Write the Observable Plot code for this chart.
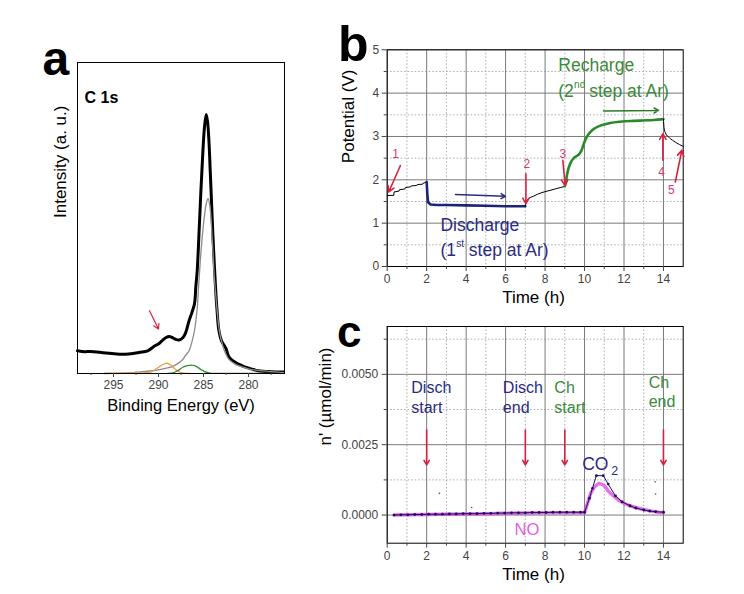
<!DOCTYPE html>
<html><head><meta charset="utf-8">
<script src="https://cdn.jsdelivr.net/npm/d3@7"></script>
<script src="https://cdn.jsdelivr.net/npm/@observablehq/plot@0.6"></script>
<style>
body{margin:0;background:#fff;}
#fig{position:relative;width:744px;height:594px;overflow:hidden;background:#fff;}
#fig > div{position:absolute;}
#fig svg{overflow:visible;max-width:none;}
</style></head><body>
<div id="fig"><div id="pa" style="left:0;top:0"></div><div id="pb" style="left:310px;top:20px"></div><div id="pc" style="left:310px;top:310px"></div></div>
<script>
// ---------- Panel a : C 1s XPS ----------
const aEnergy = [299,298.2,297.5,296.5,295.5,294.3,293.3,292.1,291.2,290.4,290.0,289.5,289.2,288.8,288.5,288.1,287.7,287.3,287.0,286.6,286.3,286.0,285.85,285.7,285.5,285.3,285.1,284.9,284.7,284.55,284.4,284.25,284.1,283.95,283.8,283.65,283.5,283.3,283.0,282.5,282.2,281.8,281.1,280.5,279.6,278.9,277.5,276.1];
const aSignal = [7.3,7.0,7.1,6.8,6.5,6.2,6.3,6.8,7.3,8.9,9.5,10.8,11.5,11.9,11.6,11.0,10.8,11.5,13.0,17,19.5,22.4,28,33,45,58,69.6,79,83.3,81,75,65,54.6,44,35.2,27,20.5,14,10.5,8,5.5,4.2,3.0,2.2,1.4,0.9,0.6,0.5];
const aFitEnergy = [296,293,291,290,289,288.4,287.7,287.3,287.0,286.6,286.3,286.0,285.7,285.5,285.2,284.9,284.7,284.5,284.3,284.0,283.8,283.6,283.3,283.1,282.7,282.2,281.5,281.1,280,279,277,276.1];
const aFitMain = [0,0.3,0.8,1.2,1.8,2.3,3.5,4.5,5.8,7.3,10,13.8,21,30,42,50.5,54.5,56.2,54,41.7,31,24,15,11.6,7.5,4.6,3.0,2.5,1.5,1.0,0.5,0.3];
const aOrangeE = [296,292,291,290.5,290.0,289.5,289.1,288.7,288.3,287.9,287.5,287.0,286.5];
const aOrangeI = [0.1,0.2,0.4,1.0,2.0,2.9,3.3,2.9,1.8,0.8,0.3,0.1,0];
const aGreenE = [289,288.3,287.8,287.3,286.8,286.3,285.8,285.3,284.8,284.3,283.5,277];
const aGreenI = [0.05,0.3,1.0,2.0,2.5,2.7,2.3,1.3,0.5,0.15,0.05,0.05];
const aTicks = [295,290,285,280];
const aMinor = [297.5,292.5,287.5,282.5,277.5];

// ---------- Panel b : potential vs time ----------
const bRestT = [0,0.33,0.35,0.6,0.62,0.9,0.92,1.2,1.22,1.5,1.52,1.8,1.82,2.0];
const bRestV = [1.64,1.64,1.72,1.74,1.77,1.79,1.82,1.84,1.86,1.87,1.89,1.9,1.92,1.95];
const bDischT = [2.0,2.03,2.07,2.2,2.5,3,4,5,6,7.0];
const bDischV = [1.95,1.7,1.48,1.43,1.42,1.42,1.41,1.40,1.39,1.39];
const bRest2T = [7.0,7.02,7.15,7.4,7.8,8.2,8.6,9.0];
const bRest2V = [1.39,1.48,1.56,1.62,1.70,1.75,1.80,1.85];
const bChargeT = [9.0,9.05,9.15,9.3,9.5,9.7,9.85,10.0,10.15,10.4,10.8,11.3,11.8,12.5,13.0,13.5,14.0];
const bChargeV = [1.85,1.95,2.2,2.4,2.52,2.58,2.68,2.88,3.02,3.15,3.25,3.31,3.34,3.36,3.37,3.38,3.40];
const bRest3T = [14.0,14.03,14.1,14.3,14.6,15.0];
const bRest3V = [3.40,3.2,3.08,2.97,2.87,2.77];
const bStepLabels = ["1","2","3","4","5"];
const bStepT = [0.42,7.08,8.9,13.9,14.4];
const bStepV = [2.59,2.37,2.59,2.18,1.77];
const bArrowFrom = [[0.67,2.33],[7.03,2.14],[8.9,2.45],[13.97,2.45],[14.6,1.95]];
const bArrowTo = [[0.08,1.72],[7.03,1.45],[9.02,1.87],[13.97,3.06],[14.93,2.68]];
const bTicksX = [0,2,4,6,8,10,12,14], bMinorX = [1,3,5,7,9,11,13];
const bTicksY = [0,1,2,3,4,5], bMinorY = [0.5,1.5,2.5,3.5,4.5];

// ---------- Panel c : gas evolution ----------
const cTime = [0.35,0.7,1.05,1.4,1.75,2.1,2.45,2.8,3.15,3.5,3.85,4.2,4.55,4.9,5.25,5.6,5.95,6.3,6.65,7.0,7.35,7.7,8.05,8.4,8.75,9.1,9.45,9.8,10.0,10.25,10.4,10.6,10.95,11.2,11.57,11.9,12.3,12.6,13.0,13.3,13.6,14.0];
const cCO2 = [0,0.00001,0.00001,0.00002,0.00002,0.00003,0.00003,0.00003,0.00004,0.00004,0.00005,0.00005,0.00005,0.00006,0.00006,0.00007,0.00007,0.00008,0.00008,0.00008,0.00009,0.00009,0.00009,0.0001,0.0001,0.0001,0.0001,0.0001,0.0001,0.0006,0.00095,0.0014,0.0014,0.0011,0.00068,0.00047,0.00033,0.00025,0.00018,0.00014,0.00012,0.0001];
const cNOTime = [0.35,1,2,3,4,5,6,7,8,9,10.0,10.31,10.5,10.73,11.0,11.23,11.5,11.73,12.0,12.3,12.58,13.0,13.4,13.75,14.0];
const cNO = [0,0.00001,0.00002,0.00003,0.00004,0.00005,0.00006,0.00007,0.00008,0.00008,0.00008,0.00077,0.001,0.00113,0.00105,0.00083,0.00066,0.00053,0.00042,0.00033,0.00027,0.0002,0.00014,0.0001,0.00009];
const cStrayT = [2.65,4.28,13.58,13.6];
const cStrayV = [0.00077,0.00027,0.00118,0.00075];
const cEventT = [2,7,9,14];
const cTicksX = [0,2,4,6,8,10,12,14], cMinorX = [1,3,5,7,9,11,13];
const cTicksY = [0,0.0025,0.005], cMinorY = [0.00125,0.00375,0.00625];

const F = '"Liberation Sans", Arial, sans-serif';
const NAVY = "#2b2b85", GREEN = "#3a8a3a", RED = "#d9213f", PINK = "#d83a72", MAG = "#e040e0";
const zip = (xs, ys) => xs.map((x, i) => ({x, y: ys[i]}));
const baseStyle = {fontFamily: F, fontSize: "12px", color: "#444", background: "transparent", overflow: "visible"};

// ---- a ----
const pa = Plot.plot({
  width: 310, height: 430, marginLeft: 77, marginTop: 62, marginRight: 26, marginBottom: 57,
  style: baseStyle,
  x: {domain: [299, 276]}, y: {domain: [0, 100], axis: null},
  marks: [
    Plot.line(zip(aEnergy, aSignal), {x: "x", y: "y", stroke: "#000", strokeWidth: 3, curve: "catmull-rom"}),
    Plot.line(zip(aFitEnergy, aFitMain), {x: "x", y: "y", stroke: "#8c8c8c", strokeWidth: 1.3, curve: "catmull-rom"}),
    Plot.line(zip(aOrangeE, aOrangeI), {x: "x", y: "y", stroke: "#f0a040", strokeWidth: 1.3, curve: "catmull-rom"}),
    Plot.line(zip(aGreenE, aGreenI), {x: "x", y: "y", stroke: "#2a8a2a", strokeWidth: 1.3, curve: "catmull-rom"}),
    Plot.arrow([0], {x1: () => 291.0, y1: () => 20.2, x2: () => 290.0, y2: () => 14.3, stroke: RED, strokeWidth: 1.2, headLength: 7}),
    Plot.frame({stroke: "#000"}),
    Plot.axisX(aTicks, {tickSize: 4, tickPadding: 3, label: null, fontSize: 12}),
    Plot.axisX(aMinor, {tickSize: 2, tickFormat: () => "", label: null}),
    Plot.text(["C 1s"], {frameAnchor: "top-left", dx: 7, dy: 29, textAnchor: "start", fontWeight: "bold", fontSize: 16, fill: "#000"}),
    Plot.text(["Intensity (a. u.)"], {frameAnchor: "left", rotate: -90, dx: -17, fontSize: 17, fill: "#000"}),
    Plot.text(["Binding Energy (eV)"], {frameAnchor: "bottom", dy: 37, fontSize: 16.5, fill: "#000"}),
    Plot.text(["a"], {frameAnchor: "top-left", dx: -35, dy: 12.7, lineAnchor: "bottom", fontSize: 48, fontWeight: "bold", fill: "#000"})
  ]
});
document.getElementById("pa").append(pa);

// ---- b ----
const pb = Plot.plot({
  width: 434, height: 290, marginLeft: 76.7, marginTop: 29.3, marginRight: 61.3, marginBottom: 44,
  style: baseStyle,
  x: {domain: [0, 15]}, y: {domain: [0, 5]},
  marks: [
    Plot.gridX(bMinorX, {stroke: "#aaa", strokeOpacity: 1, strokeDasharray: "1.5,2"}),
    Plot.gridY(bMinorY, {stroke: "#aaa", strokeOpacity: 1, strokeDasharray: "1.5,2"}),
    Plot.gridX(bTicksX, {stroke: "#7a7a7a", strokeOpacity: 1}),
    Plot.gridY(bTicksY, {stroke: "#7a7a7a", strokeOpacity: 1}),
    Plot.frame({stroke: "#000"}),
    Plot.axisX(bTicksX, {tickSize: 5, tickPadding: 3, label: null}),
    Plot.axisX(bMinorX, {tickSize: 3, tickFormat: () => "", label: null}),
    Plot.axisY(bTicksY, {tickSize: 5, tickPadding: 3, label: null}),
    Plot.axisY(bMinorY, {tickSize: 3, tickFormat: () => "", label: null}),
    Plot.line(zip(bRestT, bRestV), {x: "x", y: "y", stroke: "#000", strokeWidth: 1}),
    Plot.line(zip(bDischT, bDischV), {x: "x", y: "y", stroke: "#1c2478", strokeWidth: 2.6}),
    Plot.line(zip(bRest2T, bRest2V), {x: "x", y: "y", stroke: "#000", strokeWidth: 1, curve: "monotone-x"}),
    Plot.line(zip(bChargeT, bChargeV), {x: "x", y: "y", stroke: "#2a8a2a", strokeWidth: 2.6, curve: "monotone-x"}),
    Plot.line(zip(bRest3T, bRest3V), {x: "x", y: "y", stroke: "#000", strokeWidth: 1, curve: "monotone-x"}),
    Plot.arrow(bArrowFrom.map((f, i) => ({f, t: bArrowTo[i]})), {x1: d => d.f[0], y1: d => d.f[1], x2: d => d.t[0], y2: d => d.t[1], stroke: RED, strokeWidth: 1.6, headLength: 6}),
    Plot.arrow([0], {x1: () => 3.46, y1: () => 1.66, x2: () => 5.99, y2: () => 1.62, stroke: NAVY, strokeWidth: 1.5, headLength: 5}),
    Plot.arrow([0], {x1: () => 10.96, y1: () => 3.59, x2: () => 13.75, y2: () => 3.60, stroke: "#2a7a2a", strokeWidth: 1.5, headLength: 5}),
    Plot.text(bStepLabels, {x: (d, i) => bStepT[i], y: (d, i) => bStepV[i], fill: PINK, fontSize: 12}),
    Plot.text(["Discharge"], {x: () => 2.7, y: () => 0.96, textAnchor: "start", fill: NAVY, fontSize: 17.5}),
    Plot.text(["(1"], {x: () => 2.7, y: () => 0.37, textAnchor: "start", fill: NAVY, fontSize: 17.5}),
    Plot.text(["st"], {x: () => 2.7, y: () => 0.37, dx: 15.8, dy: -7, textAnchor: "start", fill: NAVY, fontSize: 10}),
    Plot.text([" step at Ar)"], {x: () => 2.7, y: () => 0.37, dx: 23.5, textAnchor: "start", fill: NAVY, fontSize: 17.5}),
    Plot.text(["Recharge"], {x: () => 8.67, y: () => 4.64, textAnchor: "start", fill: GREEN, fontSize: 17.5}),
    Plot.text(["(2"], {x: () => 8.67, y: () => 4.04, textAnchor: "start", fill: GREEN, fontSize: 17.5}),
    Plot.text(["nd"], {x: () => 8.67, y: () => 4.04, dx: 15.8, dy: -7, textAnchor: "start", fill: GREEN, fontSize: 10}),
    Plot.text([" step at Ar)"], {x: () => 8.67, y: () => 4.04, dx: 26, textAnchor: "start", fill: GREEN, fontSize: 17.5}),
    Plot.text(["Potential (V)"], {frameAnchor: "left", rotate: -90, dx: -38.7, dy: 5, fontSize: 17, fill: "#000"}),
    Plot.text(["Time (h)"], {frameAnchor: "bottom", dx: -1.7, dy: 36.7, fontSize: 17, fill: "#000"}),
    Plot.text(["b"], {frameAnchor: "top-left", dx: -49.2, dy: 11.4, lineAnchor: "bottom", fontSize: 50, fontWeight: "bold", fill: "#000"})
  ]
});
document.getElementById("pb").append(pb);

// ---- c ----
const pc = Plot.plot({
  width: 434, height: 284, marginLeft: 76.7, marginTop: 16, marginRight: 61.3, marginBottom: 51.3,
  style: baseStyle,
  x: {domain: [0, 15]}, y: {domain: [-0.001, 0.0067]},
  marks: [
    Plot.gridX(cMinorX, {stroke: "#aaa", strokeOpacity: 1, strokeDasharray: "1.5,2"}),
    Plot.gridY(cMinorY, {stroke: "#aaa", strokeOpacity: 1, strokeDasharray: "1.5,2"}),
    Plot.gridX(cTicksX, {stroke: "#7a7a7a", strokeOpacity: 1}),
    Plot.gridY(cTicksY, {stroke: "#7a7a7a", strokeOpacity: 1}),
    Plot.frame({stroke: "#000"}),
    Plot.axisX(cTicksX, {tickSize: 5, tickPadding: 3, label: null}),
    Plot.axisX(cMinorX, {tickSize: 3, tickFormat: () => "", label: null}),
    Plot.axisY(cTicksY, {tickSize: 5, tickPadding: 4, tickFormat: d3.format(".4f"), label: null}),
    Plot.axisY(cMinorY, {tickSize: 3, tickFormat: () => "", label: null}),
    Plot.line(zip(cNOTime, cNO), {x: "x", y: "y", stroke: MAG, strokeWidth: 3.5, strokeOpacity: 0.75}),
    Plot.line(zip(cTime, cCO2), {x: "x", y: "y", stroke: "#1a1060", strokeWidth: 1}),
    Plot.dot(zip(cTime, cCO2), {x: "x", y: "y", r: 1.4, fill: "#1a1060"}),
    Plot.dot(zip(cStrayT, cStrayV), {x: "x", y: "y", r: 0.8, fill: "#555"}),
    Plot.arrow(cEventT, {x1: d => d, y1: () => 0.00302, x2: d => d, y2: () => 0.00178, stroke: RED, strokeWidth: 1.6, headLength: 5}),
    Plot.text(["Disch\nstart"], {x: () => 1.22, y: () => 0.00422, textAnchor: "start", lineHeight: 1.29, fill: NAVY, fontSize: 16}),
    Plot.text(["Disch\nend"], {x: () => 5.86, y: () => 0.00422, textAnchor: "start", lineHeight: 1.29, fill: NAVY, fontSize: 16}),
    Plot.text(["Ch\nstart"], {x: () => 8.47, y: () => 0.00422, textAnchor: "start", lineHeight: 1.29, fill: GREEN, fontSize: 16}),
    Plot.text(["Ch\nend"], {x: () => 13.25, y: () => 0.00439, textAnchor: "start", lineHeight: 1.2, fill: GREEN, fontSize: 16}),
    Plot.text(["CO"], {x: () => 9.88, y: () => 0.00181, textAnchor: "start", fill: NAVY, fontSize: 17.5}),
    Plot.text(["2"], {x: () => 9.88, y: () => 0.00181, dx: 29, dy: 7, textAnchor: "start", fill: NAVY, fontSize: 12.5}),
    Plot.text(["NO"], {x: () => 6.45, y: () => -0.00053, textAnchor: "start", fill: "#e060e0", fontSize: 16.5}),
    Plot.text(["n' (\u00b5mol/min)"], {frameAnchor: "left", rotate: -90, dx: -61.7, dy: 10.7, fontSize: 17, fill: "#000"}),
    Plot.text(["Time (h)"], {frameAnchor: "bottom", dx: -1.7, dy: 36.3, fontSize: 17, fill: "#000"}),
    Plot.text(["c"], {frameAnchor: "top-left", dx: -50.2, dy: 20.7, lineAnchor: "bottom", fontSize: 44, fontWeight: "bold", fill: "#000"})
  ]
});
document.getElementById("pc").append(pc);
</script>
</body></html>
